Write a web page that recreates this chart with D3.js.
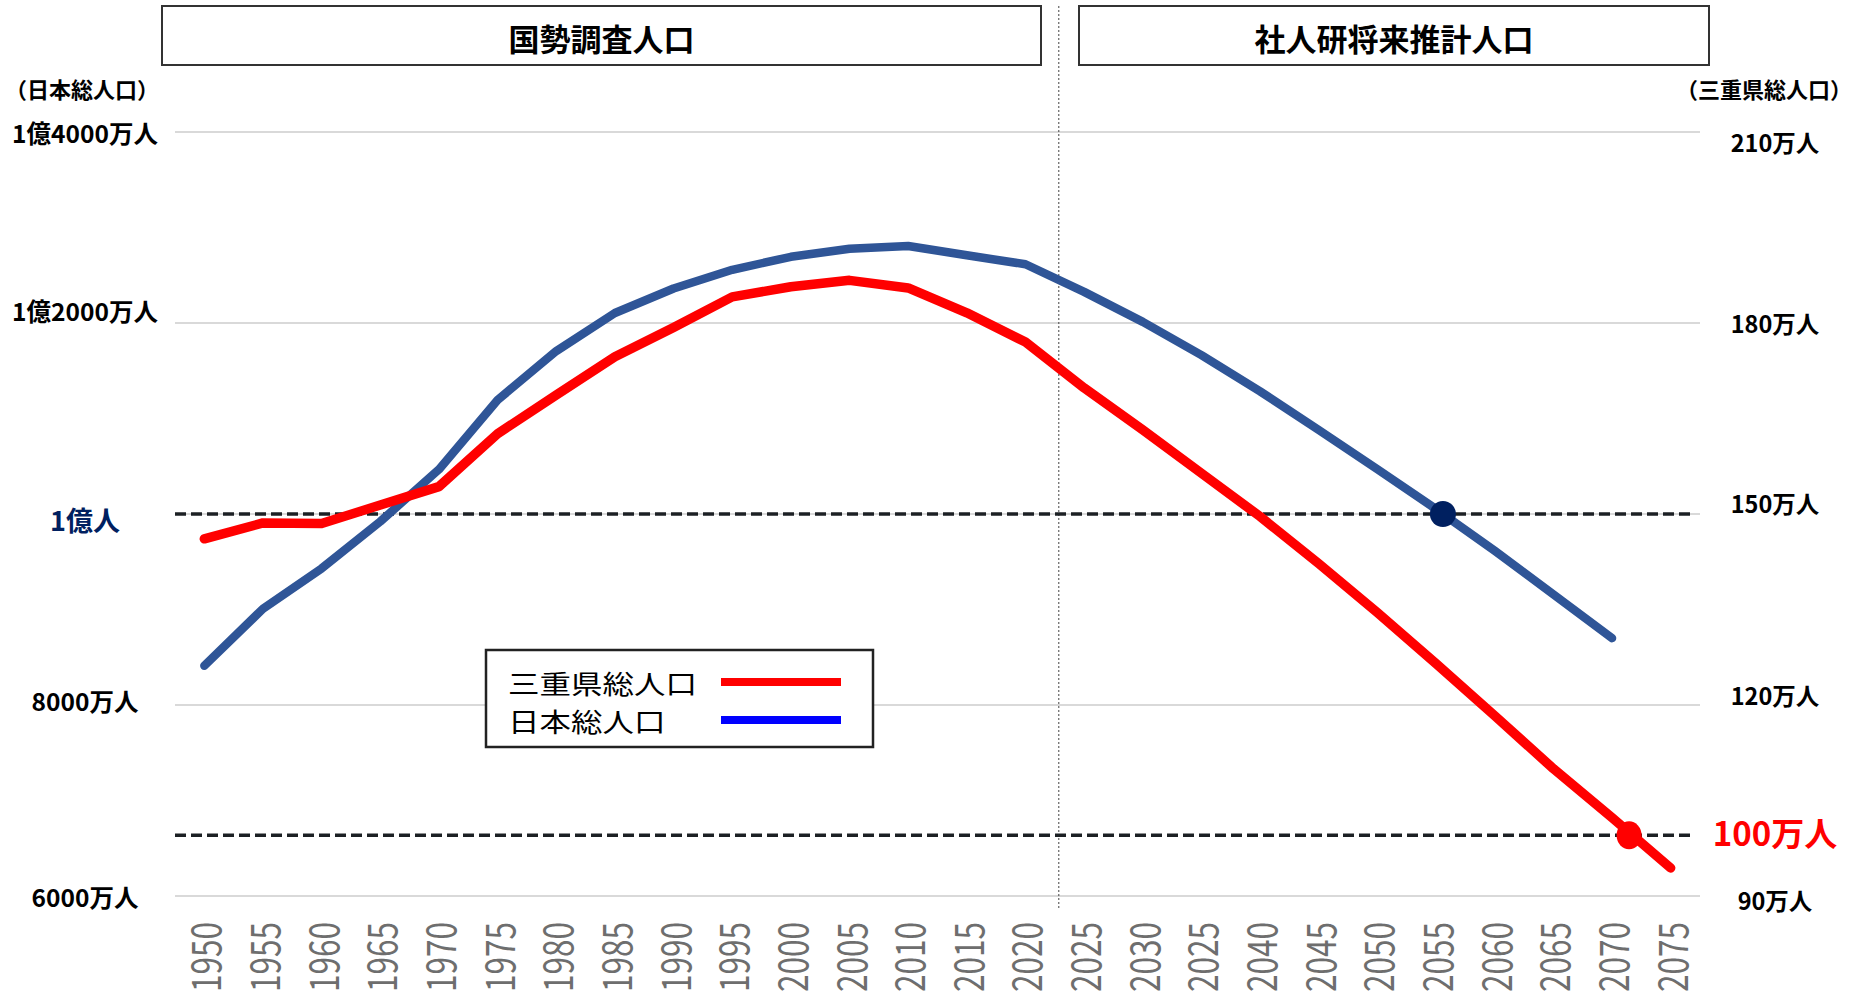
<!DOCTYPE html>
<html>
<head>
<meta charset="utf-8">
<script src="https://cdnjs.cloudflare.com/ajax/libs/d3/7.8.5/d3.min.js"></script>
<style>
    body { margin: 0; background: #fff; }
    text { font-family: "Noto Sans CJK JP", "Noto Sans", sans-serif; }
</style>
</head>
<body>
<svg id="chart" width="1860" height="994"></svg>
<script>
// x labels as printed on the chart (the second "2025" is in the original)
let yearLabels = ["1950","1955","1960","1965","1970","1975","1980","1985","1990","1995",
                  "2000","2005","2010","2015","2020","2025","2030","2025","2040","2045",
                  "2050","2055","2060","2065","2070","2075"]

// 日本総人口 (万人)
let japanPop = [8411, 9008, 9430, 9921, 10467, 11194, 11706, 12105, 12361, 12557,
                12693, 12777, 12806, 12709, 12615, 12326, 12012, 11664, 11284, 10880,
                10469, 10051, 9615, 9159, 8700, null]

// 三重県総人口 (万人)
let miePop = [146.1, 148.6, 148.5, 151.4, 154.3, 162.6, 168.7, 174.7, 179.3, 184.1,
              185.7, 186.7, 185.5, 181.6, 177.0, 169.8, 163.2, 156.4, 149.6, 142.2,
              134.5, 126.5, 118.3, 110.0, 102.3, 94.4]

let leftTicks = [6000, 8000, 10000, 12000, 14000]
let leftTickLabels = ["6000万人", "8000万人", "1億人", "1億2000万人", "1億4000万人"]
let rightTicks = [90, 120, 150, 180, 210]
let rightTickLabels = ["90万人", "120万人", "150万人", "180万人", "210万人"]

let periodTitles = ["国勢調査人口", "社人研将来推計人口"]
let seriesNames = ["三重県総人口", "日本総人口"]

let japanMark = 10000   // 1億人
let mieMark = 100       // 100万人

// layout
let plotLeft = 175, plotRight = 1700, plotTop = 132, plotBottom = 896
let leftLabelNudge = [0, -5, 5, -13, 0]
let rightLabelNudge = [4, -10, -11, 0, 10]

let svg = d3.select("#chart")

let xScale = d3.scaleBand()
    .domain(d3.range(yearLabels.length))
    .range([plotLeft, plotRight])
let xc = i => xScale(i) + xScale.bandwidth() / 2

let yLeft = d3.scaleLinear().domain([6000, 14000]).range([plotBottom, plotTop])
let yRight = d3.scaleLinear().domain([90, 210]).range([plotBottom, plotTop])

// gridlines
svg.append("g").selectAll("line")
    .data(leftTicks)
    .join("line")
    .attr("x1", plotLeft).attr("x2", plotRight)
    .attr("y1", d => yLeft(d)).attr("y2", d => yLeft(d))
    .attr("stroke", "#d9d9d9")
    .attr("stroke-width", 2)

// period divider (between 2020 and 2025)
let divX = xScale(15) + 4
svg.append("line")
    .attr("x1", divX).attr("x2", divX)
    .attr("y1", 6).attr("y2", 908)
    .attr("stroke", "#444")
    .attr("stroke-width", 1)
    .attr("stroke-dasharray", "2,2")

// period boxes
let boxes = [[162, 1041], [1079, 1709]]
svg.append("g").selectAll("g")
    .data(periodTitles)
    .join("g")
    .each(function (d, i) {
        let g = d3.select(this)
        g.append("rect")
            .attr("x", boxes[i][0]).attr("y", 6)
            .attr("width", boxes[i][1] - boxes[i][0]).attr("height", 59)
            .attr("fill", "#fff")
            .attr("stroke", "#333")
            .attr("stroke-width", 2)
        g.append("text")
            .attr("x", (boxes[i][0] + boxes[i][1]) / 2)
            .attr("y", 37)
            .attr("text-anchor", "middle")
            .attr("dominant-baseline", "central")
            .attr("font-size", 31)
            .attr("font-weight", "bold")
            .text(d)
    })

// axis titles
svg.append("text").attr("x", 82).attr("y", 88)
    .attr("text-anchor", "middle").attr("dominant-baseline", "central")
    .attr("font-size", 22).attr("font-weight", "bold")
    .text("（日本総人口）")
svg.append("text").attr("x", 1764).attr("y", 88)
    .attr("text-anchor", "middle").attr("dominant-baseline", "central")
    .attr("font-size", 22).attr("font-weight", "bold")
    .text("（三重県総人口）")

// left labels
svg.append("g").selectAll("text")
    .data(leftTicks)
    .join("text")
    .attr("x", 85)
    .attr("y", (d, i) => yLeft(d) + leftLabelNudge[i])
    .attr("text-anchor", "middle")
    .attr("dominant-baseline", "central")
    .attr("font-size", d => d == japanMark ? 27 : 24.5)
    .attr("font-weight", "bold")
    .attr("fill", d => d == japanMark ? "#002060" : "#000")
    .text((d, i) => leftTickLabels[i])

// right labels
svg.append("g").selectAll("text")
    .data(rightTicks)
    .join("text")
    .attr("x", 1775)
    .attr("y", (d, i) => yRight(d) + rightLabelNudge[i])
    .attr("text-anchor", "middle")
    .attr("dominant-baseline", "central")
    .attr("font-size", 23.5)
    .attr("font-weight", "bold")
    .text((d, i) => rightTickLabels[i])

svg.append("text")
    .attr("x", 1775).attr("y", yRight(mieMark))
    .attr("text-anchor", "middle").attr("dominant-baseline", "central")
    .attr("font-size", 33).attr("font-weight", "bold")
    .attr("fill", "#ff0000")
    .text(mieMark + "万人")

// x labels
svg.append("g").selectAll("text")
    .data(yearLabels)
    .join("text")
    .attr("transform", (d, i) => `translate(${xc(i)},922) rotate(-90)`)
    .attr("text-anchor", "end")
    .attr("dominant-baseline", "central")
    .attr("font-family", "DejaVu Sans")
    .attr("font-size", 40)
    .attr("textLength", 70)
    .attr("lengthAdjust", "spacingAndGlyphs")
    .attr("fill", "#6e6e6e")
    .text(d => d)

// reference lines
svg.append("line")
    .attr("x1", plotLeft).attr("x2", plotRight - 5)
    .attr("y1", yLeft(japanMark)).attr("y2", yLeft(japanMark))
    .attr("stroke", "#1c2024").attr("stroke-width", 3.5)
    .attr("stroke-dasharray", "11,5")
svg.append("line")
    .attr("x1", plotLeft).attr("x2", plotRight - 5)
    .attr("y1", yRight(mieMark) + 3).attr("y2", yRight(mieMark) + 3)
    .attr("stroke", "#1c2024").attr("stroke-width", 3.5)
    .attr("stroke-dasharray", "11,5")

// series lines
let japanLine = d3.line()
    .defined(d => d != null)
    .x((d, i) => xc(i))
    .y(d => yLeft(d))
let mieLine = d3.line()
    .x((d, i) => xc(i))
    .y(d => yRight(d))

svg.append("path")
    .attr("d", japanLine(japanPop))
    .attr("fill", "none")
    .attr("stroke", "#2f5597")
    .attr("stroke-width", 8.5)
    .attr("stroke-linecap", "round")
    .attr("stroke-linejoin", "round")

svg.append("path")
    .attr("d", mieLine(miePop))
    .attr("fill", "none")
    .attr("stroke", "#ff0000")
    .attr("stroke-width", 9.5)
    .attr("stroke-linecap", "round")
    .attr("stroke-linejoin", "round")

// last place a series crosses a level, as fractional index
function crossing(vals, target) {
    for (let i = vals.length - 2; i >= 0; i--) {
        if (vals[i] == null || vals[i + 1] == null) continue
        if ((vals[i] - target) * (vals[i + 1] - target) <= 0) {
            return i + (vals[i] - target) / (vals[i] - vals[i + 1])
        }
    }
    return null
}
let xAt = t => xc(0) + t * xScale.step()

let jt = crossing(japanPop, japanMark)
svg.append("circle")
    .attr("cx", xAt(jt)).attr("cy", yLeft(japanMark))
    .attr("r", 13)
    .attr("fill", "#002060")

let mt = crossing(miePop, mieMark)
svg.append("ellipse")
    .attr("cx", xAt(mt)).attr("cy", yRight(mieMark) + 3)
    .attr("rx", 12.5).attr("ry", 14)
    .attr("fill", "#ff0000")

// legend
let legend = svg.append("g")
legend.append("rect")
    .attr("x", 486).attr("y", 650)
    .attr("width", 387).attr("height", 97)
    .attr("fill", "#fff")
    .attr("stroke", "#222")
    .attr("stroke-width", 2.5)
let legendColors = ["#ff0000", "#0000ff"]
seriesNames.forEach((name, i) => {
    let ly = 682 + i * 38
    legend.append("text")
        .attr("x", 508).attr("y", ly)
        .attr("dominant-baseline", "central")
        .attr("font-size", 26)
        .attr("textLength", name.length * 31.5)
        .attr("lengthAdjust", "spacingAndGlyphs")
        .text(name)
    legend.append("line")
        .attr("x1", 721).attr("x2", 841)
        .attr("y1", ly).attr("y2", ly)
        .attr("stroke", legendColors[i])
        .attr("stroke-width", 8)
})
</script>
</body>
</html>
